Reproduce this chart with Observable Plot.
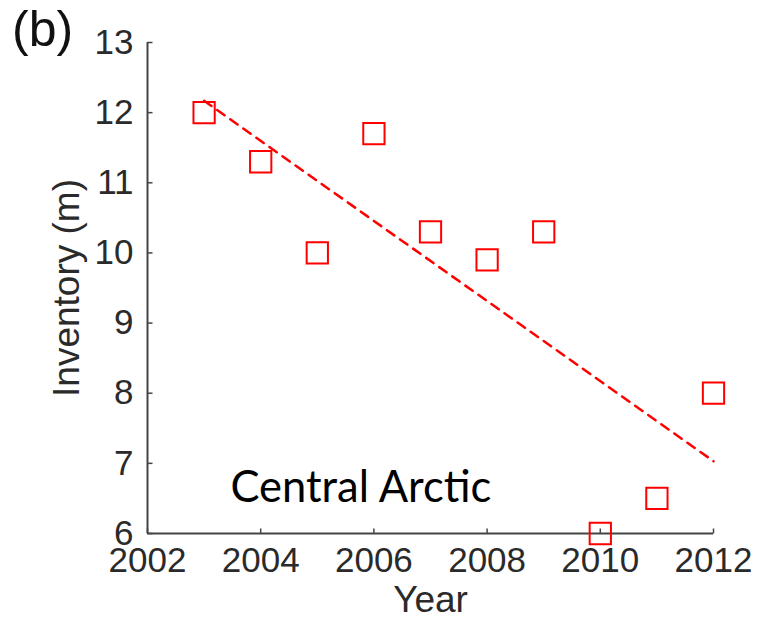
<!DOCTYPE html>
<html>
<head>
<meta charset="utf-8">
<script src="https://cdn.jsdelivr.net/npm/d3@7"></script>
<script src="https://cdn.jsdelivr.net/npm/@observablehq/plot@0.6"></script>
<style>
  html, body { margin: 0; padding: 0; background: #fff; }
  #wrap { position: relative; width: 761px; height: 621px; }
  #panel { position: absolute; left: 12px; top: 0px; line-height: 1; font: 50px "Liberation Sans", Arial, sans-serif; color: #111; }
</style>
</head>
<body>
<div id="wrap">
  <div id="chart"></div>
  <div id="panel">(b)</div>
</div>
<script>
const years = [2003, 2004, 2005, 2006, 2007, 2008, 2009, 2010, 2011, 2012];
const inventory = [12.0, 11.3, 10.0, 11.7, 10.3, 9.9, 10.3, 6.0, 6.5, 8.0];
const xTicks = [2002, 2004, 2006, 2008, 2010, 2012];
const yTicks = [6, 7, 8, 9, 10, 11, 12, 13];
const xLabel = ["Year"];
const yLabel = ["Inventory (m)"];
const regionLabel = ["Central Arctic"];
const regionLabelPos = {x: 2005.77, y: 6.45};

const data = years.map((year, i) => ({year, value: inventory[i]}));
const axisColor = "#444";
const textColor = "#2a2a2a";
const font = "'Liberation Sans', Arial, sans-serif";
const TICK = 5;
const tickUp = {draw(ctx) { ctx.moveTo(0, 0); ctx.lineTo(0, -TICK); }};
const tickRight = {draw(ctx) { ctx.moveTo(0, 0); ctx.lineTo(TICK, 0); }};

const plot = Plot.plot({
  width: 761,
  height: 621,
  marginLeft: 147,
  marginRight: 48,
  marginTop: 42,
  marginBottom: 88,
  style: {fontFamily: font, fontSize: "35px", color: textColor, background: "white"},
  x: {domain: [2002, 2012]},
  y: {domain: [6, 13]},
  marks: [
    Plot.ruleX([xTicks[0]], {stroke: axisColor, strokeWidth: 2}),
    Plot.ruleY([yTicks[0]], {stroke: axisColor, strokeWidth: 2}),
    // tick labels
    Plot.axisX({ticks: xTicks, tickFormat: d => String(d), tickSize: 0, tickPadding: 14, label: null, color: textColor}),
    Plot.axisY({ticks: yTicks, tickFormat: d => String(d), tickSize: 0, tickPadding: 14, label: null, color: textColor}),
    // inward tick marks
    Plot.dot(xTicks, {x: d => d, y: () => yTicks[0], symbol: tickUp, stroke: axisColor, strokeWidth: 1.5, fill: "none"}),
    Plot.dot(yTicks, {x: () => xTicks[0], y: d => d, symbol: tickRight, stroke: axisColor, strokeWidth: 1.5, fill: "none"}),
    // axis titles
    Plot.text(xLabel, {frameAnchor: "bottom", text: d => d, dy: 52, textAnchor: "middle", lineAnchor: "top", fontSize: 37, fill: textColor}),
    Plot.text(yLabel, {frameAnchor: "left", text: d => d, rotate: -90, dx: -95, textAnchor: "middle", lineAnchor: "top", fontSize: 37, fill: textColor}),
    Plot.linearRegressionY(data, {x: "year", y: "value", ci: 0, stroke: "#ff0000", strokeWidth: 2.5, strokeDasharray: "9,7"}),
    Plot.dot(data, {x: "year", y: "value", symbol: "square", r: 12, stroke: "#ff0000", strokeWidth: 2, fill: "none"}),
    Plot.text(regionLabel, {x: () => regionLabelPos.x, y: () => regionLabelPos.y, text: d => d, textAnchor: "middle", lineAnchor: "bottom",
      fontSize: 43.5, fontFamily: "Lato, 'Open Sans', sans-serif", fill: "#000"})
  ]
});
document.getElementById("chart").appendChild(plot);
</script>
</body>
</html>
